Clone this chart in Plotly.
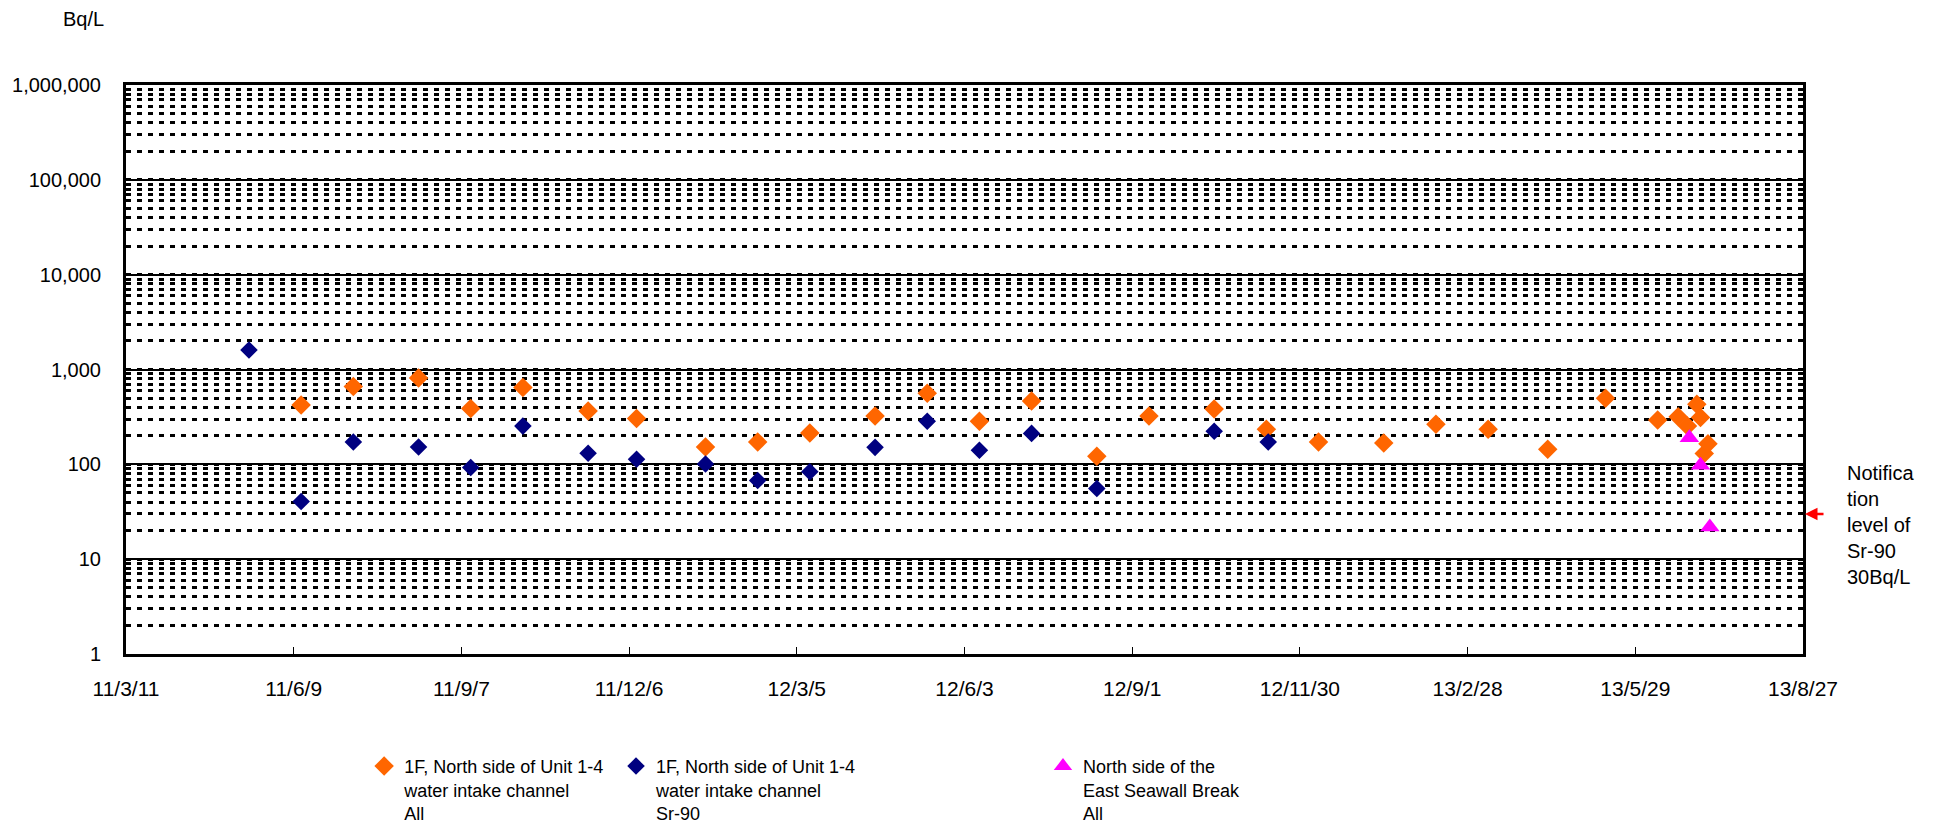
import math
import plotly.graph_objects as go

# ---------------- data ----------------
tick_dates = ["2011-03-11", "2011-06-09", "2011-09-07", "2011-12-06", "2012-03-05",
              "2012-06-03", "2012-09-01", "2012-11-30", "2013-02-28", "2013-05-29",
              "2013-08-27"]
tick_labels = ["11/3/11", "11/6/9", "11/9/7", "11/12/6", "12/3/5", "12/6/3",
               "12/9/1", "12/11/30", "13/2/28", "13/5/29", "13/8/27"]

y_tick_values = [1, 10, 100, 1000, 10000, 100000, 1000000]
y_tick_labels = ["1", "10", "100", "1,000", "10,000", "100,000", "1,000,000"]

all_dates = ["2011-06-13", "2011-07-11", "2011-08-15", "2011-09-12", "2011-10-10",
             "2011-11-14", "2011-12-10", "2012-01-16", "2012-02-13", "2012-03-12",
             "2012-04-16", "2012-05-14", "2012-06-11", "2012-07-09", "2012-08-13",
             "2012-09-10", "2012-10-15", "2012-11-12", "2012-12-10", "2013-01-14",
             "2013-02-11", "2013-03-11", "2013-04-12", "2013-05-13", "2013-06-10",
             "2013-06-21", "2013-06-26", "2013-07-01", "2013-07-03", "2013-07-05",
             "2013-07-07"]
all_values = [422, 660, 813, 387, 644, 365, 305, 152, 172, 214,
              323, 561, 284, 465, 122, 323, 383, 234, 172, 168,
              264, 234, 144, 497, 293, 318, 253, 429, 311, 130,
              165]

sr_dates = ["2011-05-16", "2011-06-13", "2011-07-11", "2011-08-15", "2011-09-12",
            "2011-10-10", "2011-11-14", "2011-12-10", "2012-01-16", "2012-02-13",
            "2012-03-12", "2012-04-16", "2012-05-14", "2012-06-11", "2012-07-09",
            "2012-08-13", "2012-10-15", "2012-11-13"]
sr_values = [1607, 40.6, 172, 152, 92.7, 253, 131, 113, 101, 67.6,
             83.5, 151, 284, 141, 212, 55.7, 223, 172]

seawall_dates = ["2013-06-27", "2013-07-03", "2013-07-08"]
seawall_values = [191, 98, 21.9]

notification_level = 30

series_names = ["1F, North side of Unit 1-4<br>water intake channel<br>All",
                "1F, North side of Unit 1-4<br>water intake channel<br>Sr-90",
                "North side of the<br>East Seawall Break<br>All"]

# ---------------- figure ----------------
fig = go.Figure()
fig.add_trace(go.Scatter(x=all_dates, y=all_values, mode="markers", name=series_names[0],
                         marker=dict(symbol="diamond", size=15, color="#FF6600"),
                         legend="legend"))
fig.add_trace(go.Scatter(x=sr_dates, y=sr_values, mode="markers", name=series_names[1],
                         marker=dict(symbol="diamond", size=13.5, color="#000080"),
                         legend="legend2"))
fig.add_trace(go.Scatter(x=seawall_dates, y=seawall_values, mode="markers", name=series_names[2],
                         marker=dict(symbol="triangle-up", size=17, color="#FF00FF"),
                         legend="legend3"))

legend_font = dict(family="Liberation Sans, Arial, sans-serif", size=18, color="black")
common_legend = dict(orientation="v", yanchor="top", xanchor="left", valign="top",
                     font=legend_font, bgcolor="rgba(0,0,0,0)", borderwidth=0,
                     itemclick=False, itemdoubleclick=False)

# page body has an 8px default margin, so the figure is 8px smaller and
# its left/top margins 8px smaller to keep the plot where the reference has it
fig.update_layout(
    width=1926, height=817,
    margin=dict(l=118, r=131, t=77, b=171, autoexpand=False),
    paper_bgcolor="white", plot_bgcolor="white",
    font=dict(family="Liberation Sans, Arial, sans-serif", size=20, color="black"),
    showlegend=True,
    legend=dict(x=0.142, y=-0.165, **common_legend),
    legend2=dict(x=0.2922, y=-0.165, **common_legend),
    legend3=dict(x=0.5468, y=-0.165, **common_legend),
)

fig.update_xaxes(
    type="date",
    range=[tick_dates[0], tick_dates[-1]],
    tickmode="array", tickvals=tick_dates, ticktext=tick_labels,
    ticks="inside", ticklen=7, tickwidth=1, tickcolor="black",
    tickfont=dict(size=21),
    ticklabelstandoff=14,
    showgrid=False, zeroline=False,
    showline=True, linewidth=3, linecolor="black", mirror=True,
)

fig.update_yaxes(
    type="log",
    range=[0, 6],
    tickmode="array", tickvals=y_tick_values, ticktext=y_tick_labels,
    tickfont=dict(size=20),
    ticks="", ticklabelstandoff=18,
    showgrid=True, gridcolor="black", gridwidth=1.5,
    zeroline=False,
    showline=True, linewidth=3, linecolor="black", mirror=True,
    minor=dict(dtick="D1", showgrid=True, gridcolor="black", gridwidth=2.5,
               griddash="5px,6px", ticks=""),
)

# y-axis unit label
fig.add_annotation(text="Bq/L", xref="paper", yref="paper", x=-0.0256, y=1.116,
                   xanchor="center", yanchor="middle", showarrow=False,
                   font=dict(size=20))

# notification level arrow and text
fig.add_annotation(text="", xref="paper", yref="y", x=1.0012, y=math.log10(notification_level),
                   showarrow=True, ax=20, ay=0, arrowhead=2, arrowsize=1,
                   arrowwidth=2.5, arrowcolor="#FF0000")
fig.add_annotation(text="Notifica<br>tion<br>level of<br>Sr-90<br>30Bq/L",
                   xref="paper", yref="paper", x=1.025, y=(654 - 525) / 569,
                   xanchor="left", yanchor="middle", align="left", showarrow=False,
                   font=dict(size=20))

fig.write_html("out.html")
